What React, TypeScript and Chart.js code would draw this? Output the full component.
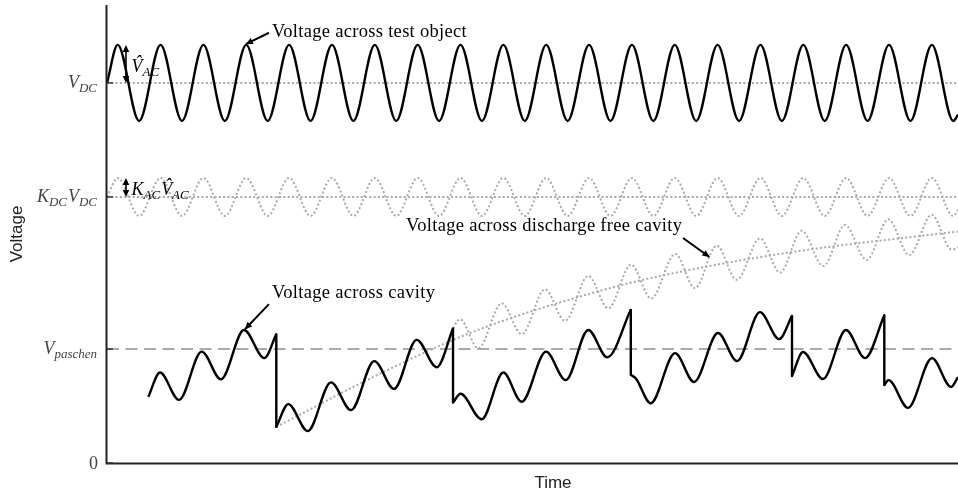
import { useEffect, useRef } from 'react';
import { Chart, registerables } from 'chart.js';

Chart.register(...registerables);

// Time is measured in AC cycles, voltage in units of V_DC.
const T_END = 19.86;
const Y_TOP = 1.205;

const V_DC = 1.0;
const KDC_VDC = 0.7;
const V_PASCHEN = 0.3;
const V_AC_HAT = 0.1;
const KAC_VAC_HAT = 0.05;

// Extrema of the applied AC+DC voltage and of the capacitively divided voltage
const acTimes = [
  0, 0.25, 0.75, 1.25, 1.75, 2.25, 2.75, 3.25, 3.75, 4.25, 4.75, 5.25, 5.75, 6.25,
  6.75, 7.25, 7.75, 8.25, 8.75, 9.25, 9.75, 10.25, 10.75, 11.25, 11.75, 12.25,
  12.75, 13.25, 13.75, 14.25, 14.75, 15.25, 15.75, 16.25, 16.75, 17.25, 17.75,
  18.25, 18.75, 19.25, 19.75, 19.86,
];
const testObjectVoltage = [
  1.0,
  1.1, 0.9, 1.1, 0.9, 1.1, 0.9, 1.1, 0.9, 1.1, 0.9,
  1.1, 0.9, 1.1, 0.9, 1.1, 0.9, 1.1, 0.9, 1.1, 0.9,
  1.1, 0.9, 1.1, 0.9, 1.1, 0.9, 1.1, 0.9, 1.1, 0.9,
  1.1, 0.9, 1.1, 0.9, 1.1, 0.9, 1.1, 0.9, 1.1, 0.9,
  0.916,
];
const dividedVoltage = [
  0.7,
  0.75, 0.65, 0.75, 0.65, 0.75, 0.65, 0.75, 0.65, 0.75, 0.65,
  0.75, 0.65, 0.75, 0.65, 0.75, 0.65, 0.75, 0.65, 0.75, 0.65,
  0.75, 0.65, 0.75, 0.65, 0.75, 0.65, 0.75, 0.65, 0.75, 0.65,
  0.75, 0.65, 0.75, 0.65, 0.75, 0.65, 0.75, 0.65, 0.75, 0.65,
  0.666,
];

// Cavity voltage between discharges: [time, voltage]
const cavitySegment1 = [
  [0.964, 0.174], [1.237, 0.238], [1.68, 0.166], [2.21, 0.293], [2.66, 0.22],
  [3.197, 0.35], [3.671, 0.276], [3.951, 0.339],
];
const cavitySegment2 = [
  [3.951, 0.095], [4.231, 0.155], [4.684, 0.084], [5.228, 0.212], [5.694, 0.139],
  [6.238, 0.268], [6.698, 0.195], [7.228, 0.324], [7.694, 0.252], [8.075, 0.354],
];
const cavitySegment3 = [
  [8.075, 0.159], [8.25, 0.182], [8.744, 0.115], [9.249, 0.238], [9.678, 0.161],
  [10.245, 0.293], [10.705, 0.218], [11.232, 0.35], [11.676, 0.278], [12.224, 0.403],
];
const cavitySegment4 = [
  [12.224, 0.232], [12.345, 0.222], [12.688, 0.157], [13.256, 0.289], [13.699, 0.213],
  [14.259, 0.342], [14.702, 0.268], [15.239, 0.397], [15.683, 0.326], [15.986, 0.387],
];
const cavitySegment5 = [
  [15.986, 0.229], [16.243, 0.292], [16.709, 0.221], [17.246, 0.35], [17.69, 0.276],
  [18.14, 0.389],
];
const cavitySegment6 = [
  [18.14, 0.205], [18.238, 0.218], [18.693, 0.145], [19.253, 0.276], [19.697, 0.2],
  [19.86, 0.226],
];
const cavitySegments = [
  cavitySegment1, cavitySegment2, cavitySegment3,
  cavitySegment4, cavitySegment5, cavitySegment6,
];

// Cavity voltage had no discharge happened after the first one
const dischargeFreeContinuation = [
  [8.238, 0.378], [8.665, 0.302], [9.211, 0.42], [9.678, 0.339], [10.222, 0.457],
  [10.688, 0.374], [11.232, 0.492], [11.699, 0.407], [12.229, 0.522], [12.7, 0.433],
  [13.263, 0.55], [13.722, 0.46], [14.229, 0.572], [14.695, 0.482], [15.239, 0.591],
  [15.706, 0.501], [16.212, 0.611], [16.717, 0.518], [17.223, 0.626], [17.729, 0.534],
  [18.233, 0.641], [18.723, 0.547], [19.246, 0.653], [19.713, 0.561], [19.86, 0.568],
];
// Its DC component (recharging towards K_DC V_DC)
const dischargeFreeTrend = [
  [3.951, 0.095], [6.208, 0.226], [8.471, 0.342], [11.505, 0.453], [13.372, 0.503],
  [16.173, 0.558], [19.86, 0.609],
];

type MathPart = { s: string; sub?: boolean; hat?: boolean; upright?: boolean };

const yTickValues = [0, V_PASCHEN, KDC_VDC, V_DC];
const yTickLabels: MathPart[][] = [
  [{ s: '0', upright: true }],
  [{ s: 'V' }, { s: 'paschen', sub: true }],
  [{ s: 'K' }, { s: 'DC', sub: true }, { s: 'V' }, { s: 'DC', sub: true }],
  [{ s: 'V' }, { s: 'DC', sub: true }],
];

const SERIF = '"Liberation Serif", "Times New Roman", serif';
const SANS = '"Liberation Sans", Arial, sans-serif';
const GRAY = '#aaaaaa';
const DOT = [2, 2.3];

function drawMath(
  ctx: CanvasRenderingContext2D,
  parts: MathPart[],
  x: number,
  baseline: number,
  align: 'left' | 'right',
  size: number,
  color: string,
) {
  const subSize = Math.round(size * 0.7);
  const fontFor = (p: MathPart) =>
    p.sub
      ? `italic ${subSize}px ${SERIF}`
      : `${p.upright ? '' : 'italic '}${size}px ${SERIF}`;
  const widths = parts.map((p) => {
    ctx.font = fontFor(p);
    return ctx.measureText(p.s).width + (p.sub ? 1 : 0);
  });
  const total = widths.reduce((a, b) => a + b, 0);
  let cx = align === 'right' ? x - total : x;
  ctx.fillStyle = color;
  ctx.textAlign = 'left';
  ctx.textBaseline = 'alphabetic';
  parts.forEach((p, i) => {
    ctx.font = fontFor(p);
    ctx.fillText(p.s, cx, baseline + (p.sub ? size * 0.22 : 0));
    if (p.hat) {
      ctx.textAlign = 'center';
      ctx.fillText('\u02C6', cx + widths[i] * 0.62, baseline - size * 0.22);
      ctx.textAlign = 'left';
    }
    cx += widths[i];
  });
}

function arrowHead(ctx: CanvasRenderingContext2D, fx: number, fy: number, tx: number, ty: number) {
  const ang = Math.atan2(ty - fy, tx - fx);
  const len = 7;
  const half = 3.3;
  ctx.beginPath();
  ctx.moveTo(tx, ty);
  ctx.lineTo(tx - len * Math.cos(ang) + half * Math.sin(ang), ty - len * Math.sin(ang) - half * Math.cos(ang));
  ctx.lineTo(tx - len * Math.cos(ang) - half * Math.sin(ang), ty - len * Math.sin(ang) + half * Math.cos(ang));
  ctx.closePath();
  ctx.fill();
}

// Text labels with arrows pointing at the curves (data coordinates)
const curveNotes = [
  { text: 'Voltage across test object', at: [3.851, 1.121], from: [3.781, 1.132], to: [3.24, 1.102] },
  { text: 'Voltage across cavity', at: [3.851, 0.434], from: [3.78, 0.418], to: [3.22, 0.352] },
  { text: 'Voltage across discharge free cavity', at: [6.978, 0.6105], from: [13.442, 0.592], to: [14.06, 0.542] },
];

const amplitudeNotes: { t: number; lo: number; hi: number; label: MathPart[]; at: [number, number] }[] = [
  { t: 0.443, lo: V_DC, hi: V_DC + V_AC_HAT, label: [{ s: 'V', hat: true }, { s: 'AC', sub: true }], at: [0.572, 1.029] },
  {
    t: 0.443, lo: KDC_VDC, hi: KDC_VDC + KAC_VAC_HAT,
    label: [{ s: 'K' }, { s: 'AC', sub: true }, { s: 'V', hat: true }, { s: 'AC', sub: true }],
    at: [0.572, 0.705],
  },
];

const overlayPlugin = {
  id: 'overlay',
  afterDatasetsDraw(chart: Chart) {
    const { ctx, chartArea: a } = chart;
    const xs = chart.scales.x;
    const ys = chart.scales.y;
    const px = (t: number) => xs.getPixelForValue(t);
    const py = (v: number) => ys.getPixelForValue(v);
    ctx.save();

    // axis lines
    ctx.strokeStyle = '#222';
    ctx.lineWidth = 2;
    ctx.beginPath();
    ctx.moveTo(a.left - 0.5, a.top);
    ctx.lineTo(a.left - 0.5, a.bottom + 0.5);
    ctx.lineTo(a.right, a.bottom + 0.5);
    ctx.stroke();

    // inward ticks and tick labels
    ctx.strokeStyle = '#333';
    ctx.lineWidth = 1.5;
    yTickValues.forEach((v, i) => {
      const y = py(v);
      ctx.beginPath();
      ctx.moveTo(a.left, y);
      ctx.lineTo(a.left + 6, y);
      ctx.stroke();
      drawMath(ctx, yTickLabels[i], a.left - 9, y + 5.5, 'right', 18, '#444');
    });

    // axis titles
    ctx.fillStyle = '#222';
    ctx.font = `17px ${SANS}`;
    ctx.textAlign = 'center';
    ctx.textBaseline = 'middle';
    ctx.fillText('Time', 553, 483);
    ctx.save();
    ctx.translate(17, (a.top + a.bottom) / 2);
    ctx.rotate(-Math.PI / 2);
    ctx.fillText('Voltage', 0, 0);
    ctx.restore();

    // curve notes
    ctx.fillStyle = '#000';
    ctx.strokeStyle = '#000';
    ctx.lineWidth = 2;
    curveNotes.forEach((n) => {
      ctx.font = `18.5px ${SERIF}`;
      (ctx as any).letterSpacing = '0.3px';
      ctx.textAlign = 'left';
      ctx.textBaseline = 'alphabetic';
      ctx.fillText(n.text, px(n.at[0]), py(n.at[1]));
      (ctx as any).letterSpacing = '0px';
      const fx = px(n.from[0]);
      const fy = py(n.from[1]);
      const tx = px(n.to[0]);
      const ty = py(n.to[1]);
      ctx.beginPath();
      ctx.moveTo(fx, fy);
      ctx.lineTo(tx, ty);
      ctx.stroke();
      arrowHead(ctx, fx, fy, tx, ty);
    });

    // amplitude markers
    amplitudeNotes.forEach((n) => {
      const x = px(n.t);
      const y0 = py(n.lo);
      const y1 = py(n.hi);
      ctx.strokeStyle = '#000';
      ctx.fillStyle = '#000';
      ctx.lineWidth = 1.6;
      ctx.beginPath();
      ctx.moveTo(x, y0 - 3);
      ctx.lineTo(x, y1 + 3);
      ctx.stroke();
      arrowHead(ctx, x, y0, x, y1);
      arrowHead(ctx, x, y1, x, y0);
      drawMath(ctx, n.label, px(n.at[0]), py(n.at[1]), 'left', 18, '#000');
    });

    ctx.restore();
  },
};

const toXY = (pts: number[][]) => pts.map(([t, v]) => ({ x: t, y: v }));

export default function App() {
  const canvasRef = useRef<HTMLCanvasElement | null>(null);

  useEffect(() => {
    if (!canvasRef.current) return;
    const base = { pointRadius: 0, pointHoverRadius: 0, fill: false, borderCapStyle: 'butt' as const };
    const smooth = { ...base, cubicInterpolationMode: 'monotone' as const };
    const BLACK_W = 2.4;

    const jumps = cavitySegments.slice(0, -1).map((seg, i) => {
      const top = seg[seg.length - 1];
      const bottom = cavitySegments[i + 1][0];
      return {
        ...base,
        label: 'discharge',
        data: toXY([top, bottom]),
        borderColor: '#000',
        borderWidth: BLACK_W,
        borderCapStyle: 'round' as const,
        tension: 0,
        order: 0,
      };
    });

    const chart = new Chart(canvasRef.current, {
      type: 'line',
      data: {
        datasets: [
          {
            ...smooth,
            label: 'Voltage across test object',
            data: acTimes.map((t, i) => ({ x: t, y: testObjectVoltage[i] })),
            borderColor: '#000',
            borderWidth: BLACK_W,
            order: 0,
          },
          ...cavitySegments.map((seg) => ({
            ...smooth,
            label: 'Voltage across cavity',
            data: toXY(seg),
            borderColor: '#000',
            borderWidth: BLACK_W,
            order: 0,
          })),
          ...jumps,
          {
            ...smooth,
            label: 'Divided voltage',
            data: acTimes.map((t, i) => ({ x: t, y: dividedVoltage[i] })),
            borderColor: GRAY,
            borderWidth: 2,
            borderDash: DOT,
            order: 2,
          },
          {
            ...smooth,
            label: 'Voltage across discharge free cavity',
            data: toXY([...cavitySegment2.slice(0, -1), ...dischargeFreeContinuation]),
            borderColor: GRAY,
            borderWidth: 2,
            borderDash: DOT,
            order: 2,
          },
          {
            ...smooth,
            label: 'Discharge free DC component',
            data: toXY(dischargeFreeTrend),
            borderColor: GRAY,
            borderWidth: 2,
            borderDash: DOT,
            order: 2,
          },
          {
            ...base,
            label: 'V_DC',
            data: toXY([[0, V_DC], [T_END, V_DC]]),
            borderColor: GRAY,
            borderWidth: 2,
            borderDash: DOT,
            order: 3,
          },
          {
            ...base,
            label: 'K_DC V_DC',
            data: toXY([[0, KDC_VDC], [T_END, KDC_VDC]]),
            borderColor: GRAY,
            borderWidth: 2,
            borderDash: DOT,
            order: 3,
          },
          {
            ...base,
            label: 'V_paschen',
            data: toXY([[0, V_PASCHEN], [T_END, V_PASCHEN]]),
            borderColor: GRAY,
            borderWidth: 2,
            borderDash: [12, 6.5],
            order: 3,
          },
        ],
      },
      options: {
        animation: false,
        responsive: true,
        maintainAspectRatio: false,
        devicePixelRatio: 1,
        parsing: false,
        layout: { padding: { left: 107, right: 0, top: 5, bottom: 34 } },
        scales: {
          x: { type: 'linear', min: 0, max: T_END, display: false },
          y: { type: 'linear', min: 0, max: Y_TOP, display: false },
        },
        plugins: {
          legend: { display: false },
          tooltip: { enabled: false },
        },
        events: [],
      },
      plugins: [overlayPlugin],
    });
    return () => chart.destroy();
  }, []);

  return (
    <div style={{ position: 'fixed', left: 0, top: 0, width: 958, height: 497, background: '#fff' }}>
      <canvas ref={canvasRef} />
    </div>
  );
}
